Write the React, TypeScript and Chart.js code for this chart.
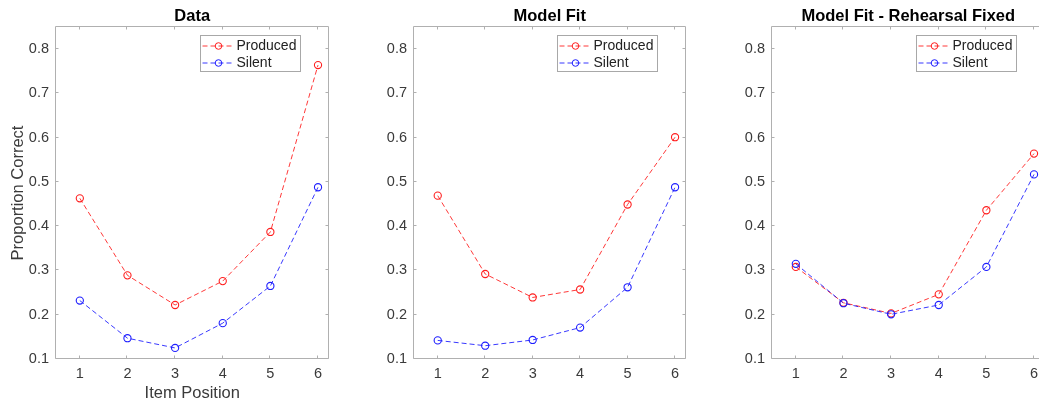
import React, { useEffect, useRef } from "react";
import { Chart, registerables } from "chart.js";

Chart.register(...registerables);

// ---------- data ----------
const itemPositions = [1, 2, 3, 4, 5, 6];
const yTickValues = [0.1, 0.2, 0.3, 0.4, 0.5, 0.6, 0.7, 0.8];
const seriesNames = ["Produced", "Silent"];
const panelTitles = ["Data", "Model Fit", "Model Fit - Rehearsal Fixed"];

const dataProduced = [0.463, 0.289, 0.222, 0.276, 0.387, 0.764];
const dataSilent = [0.232, 0.147, 0.125, 0.181, 0.265, 0.488];

const fitProduced = [0.469, 0.292, 0.239, 0.257, 0.449, 0.601];
const fitSilent = [0.142, 0.13, 0.143, 0.171, 0.262, 0.488];

const fixedProduced = [0.308, 0.227, 0.203, 0.246, 0.436, 0.564];
const fixedSilent = [0.315, 0.226, 0.201, 0.222, 0.308, 0.517];

const xAxisTitle = "Item Position";
const yAxisTitle = "Proportion Correct";

// ---------- styles ----------
const FONT = "'Liberation Sans', Arial, Helvetica, sans-serif";
const RED_LINE = "rgba(255,0,0,0.78)";
const RED_MARK = "rgb(255,30,30)";
const BLUE_LINE = "rgba(0,0,255,0.78)";
const BLUE_MARK = "rgb(30,30,255)";
const AXIS_COLOR = "#b0b0b0";
const TEXT_COLOR = "#3a3a3a";

type PanelProps = {
  title: string;
  produced: number[];
  silent: number[];
  showAxisTitles: boolean;
  left: number;
  width: number;
  padRight: number;
};

function Panel({ title, produced, silent, showAxisTitles, left, width, padRight }: PanelProps) {
  const ref = useRef<HTMLCanvasElement | null>(null);

  useEffect(() => {
    const canvas = ref.current;
    if (!canvas) return;

    const matlabPlugin = {
      id: "matlabDecor",
      beforeDatasetsDraw(chart: any) {
        const { ctx, chartArea } = chart;
        const xs = chart.scales.x;
        const ys = chart.scales.y;
        const L = Math.round(chartArea.left) - 0.5;
        const R = Math.round(chartArea.right) - 0.5;
        const T = Math.round(chartArea.top) - 0.5;
        const B = Math.round(chartArea.bottom) - 0.5;
        ctx.save();
        ctx.strokeStyle = AXIS_COLOR;
        ctx.lineWidth = 1;
        ctx.beginPath();
        ctx.rect(L, T, R - L, B - T);
        ctx.stroke();
        const tl = 3;
        ctx.beginPath();
        itemPositions.forEach((v) => {
          const px = Math.round(xs.getPixelForValue(v)) - 0.5;
          ctx.moveTo(px, B);
          ctx.lineTo(px, B - tl);
          ctx.moveTo(px, T);
          ctx.lineTo(px, T + tl);
        });
        yTickValues.forEach((v) => {
          const py = Math.round(ys.getPixelForValue(v)) - 0.5;
          ctx.moveTo(L, py);
          ctx.lineTo(L + tl, py);
          ctx.moveTo(R, py);
          ctx.lineTo(R - tl, py);
        });
        ctx.stroke();
        ctx.restore();
      },
      afterDraw(chart: any) {
        const { ctx, chartArea } = chart;
        const cx = (chartArea.left + chartArea.right) / 2;
        const cy = (chartArea.top + chartArea.bottom) / 2;
        ctx.save();
        // title
        ctx.fillStyle = "#000";
        ctx.font = `bold 16.5px ${FONT}`;
        ctx.textAlign = "center";
        ctx.textBaseline = "middle";
        ctx.fillText(title, cx, 16);

        if (showAxisTitles) {
          ctx.fillStyle = TEXT_COLOR;
          ctx.font = `16.5px ${FONT}`;
          ctx.fillText(xAxisTitle, cx, 393);
          ctx.save();
          ctx.translate(18, cy);
          ctx.rotate(-Math.PI / 2);
          ctx.fillText(yAxisTitle, 0, 0);
          ctx.restore();
        }

        // legend
        const lw = 100;
        const lh = 36;
        const lx = Math.round(chartArea.right - 29 - lw) + 0.5;
        const ly = Math.round(chartArea.top + 8) + 0.5;
        ctx.fillStyle = "#fff";
        ctx.fillRect(lx, ly, lw, lh);
        ctx.strokeStyle = "#a8a8a8";
        ctx.lineWidth = 1;
        ctx.strokeRect(lx, ly, lw, lh);
        const rows = [
          { name: seriesNames[0], line: RED_LINE, mark: RED_MARK, y: ly + 10.5 },
          { name: seriesNames[1], line: BLUE_LINE, mark: BLUE_MARK, y: ly + 27.5 },
        ];
        rows.forEach((r) => {
          ctx.save();
          ctx.strokeStyle = r.line;
          ctx.setLineDash([5, 3]);
          ctx.beginPath();
          ctx.moveTo(lx + 2, r.y);
          ctx.lineTo(lx + 31, r.y);
          ctx.stroke();
          ctx.setLineDash([]);
          ctx.strokeStyle = r.mark;
          ctx.beginPath();
          ctx.arc(lx + 18, r.y, 3.3, 0, Math.PI * 2);
          ctx.stroke();
          ctx.restore();
          ctx.fillStyle = "#222";
          ctx.font = `14px ${FONT}`;
          ctx.textAlign = "left";
          ctx.textBaseline = "middle";
          ctx.fillText(r.name, lx + 36, r.y);
        });
        ctx.restore();
      },
    };

    const mk = (vals: number[]) => itemPositions.map((x, i) => ({ x, y: vals[i] }));

    const chart = new Chart(canvas, {
      type: "line",
      data: {
        datasets: [
          {
            label: seriesNames[0],
            data: mk(produced),
            borderColor: RED_LINE,
            borderWidth: 1,
            borderDash: [5, 3],
            pointStyle: "circle",
            pointRadius: 3.6,
            pointBorderWidth: 1.1,
            pointBorderColor: RED_MARK,
            pointBackgroundColor: "rgba(0,0,0,0)",
            fill: false,
            tension: 0,
            order: 1,
          },
          {
            label: seriesNames[1],
            data: mk(silent),
            borderColor: BLUE_LINE,
            borderWidth: 1,
            borderDash: [5, 3],
            pointStyle: "circle",
            pointRadius: 3.6,
            pointBorderWidth: 1.1,
            pointBorderColor: BLUE_MARK,
            pointBackgroundColor: "rgba(0,0,0,0)",
            fill: false,
            tension: 0,
            order: 0,
          },
        ],
      },
      options: {
        responsive: false,
        animation: false,
        devicePixelRatio: 1,
        layout: { padding: { top: 27, right: padRight, left: 0, bottom: 0 } },
        plugins: {
          legend: { display: false },
          title: { display: false },
          tooltip: { enabled: false },
        },
        scales: {
          x: {
            type: "linear",
            min: 0.5,
            max: 6.22,
            grid: { display: false, drawTicks: false },
            border: { display: false },
            afterBuildTicks: (s: any) => {
              s.ticks = itemPositions.map((v) => ({ value: v }));
            },
            afterFit: (s: any) => {
              s.height = 46;
            },
            ticks: {
              padding: 6,
              color: TEXT_COLOR,
              font: { family: FONT, size: 14.5 },
              maxRotation: 0,
              autoSkip: false,
              callback: (v: any) => String(v),
            },
          },
          y: {
            type: "linear",
            min: 0.1,
            max: 0.85,
            grid: { display: false, drawTicks: false },
            border: { display: false },
            afterBuildTicks: (s: any) => {
              s.ticks = yTickValues.map((v) => ({ value: v }));
            },
            afterFit: (s: any) => {
              s.width = 56;
            },
            ticks: {
              padding: 7,
              color: TEXT_COLOR,
              font: { family: FONT, size: 14.5 },
              autoSkip: false,
              callback: (v: any) => Number(v).toFixed(1),
            },
          },
        },
      } as any,
      plugins: [matlabPlugin],
    });

    return () => chart.destroy();
  }, [title, produced, silent, showAxisTitles, padRight]);

  return (
    <canvas
      ref={ref}
      width={width}
      height={405}
      style={{ position: "absolute", left, top: 0, width, height: 405 }}
    />
  );
}

export default function App() {
  return (
    <div
      style={{
        position: "fixed",
        left: 0,
        top: 0,
        width: 1039,
        height: 405,
        overflow: "hidden",
        background: "#fff",
      }}
    >
      <Panel title={panelTitles[0]} produced={dataProduced} silent={dataSilent} showAxisTitles={true} left={0} width={340} padRight={11.5} />
      <Panel title={panelTitles[1]} produced={fitProduced} silent={fitSilent} showAxisTitles={false} left={358} width={340} padRight={12.5} />
      <Panel title={panelTitles[2]} produced={fixedProduced} silent={fixedSilent} showAxisTitles={false} left={716} width={340} padRight={11.5} />
    </div>
  );
}
